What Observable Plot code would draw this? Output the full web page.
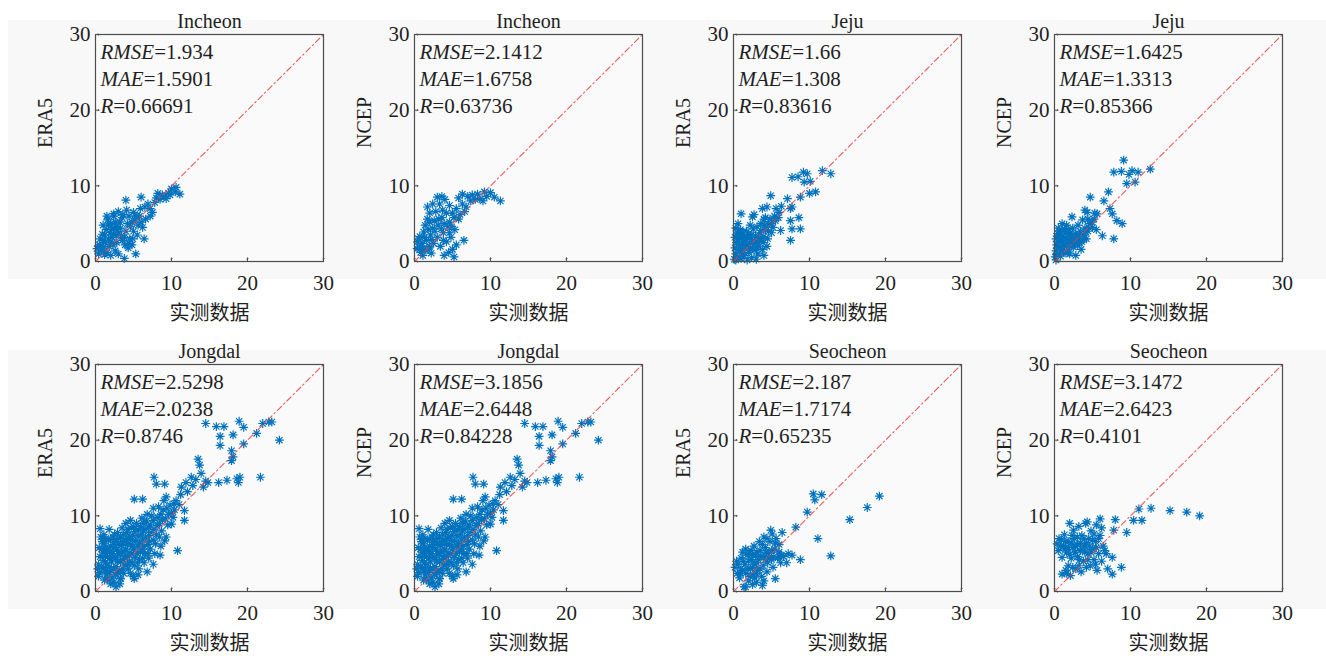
<!DOCTYPE html>
<html>
<head>
<meta charset="utf-8">
<script src="https://cdn.jsdelivr.net/npm/d3@7"></script>
<script src="https://cdn.jsdelivr.net/npm/@observablehq/plot@0.6"></script>
<style>
  html, body { margin: 0; padding: 0; background: #ffffff; }
  #wrap { position: relative; width: 1326px; height: 656px; overflow: hidden; }
  .band { position: absolute; left: 8px; width: 1318px; background: #f8f8f8; }
  .panel { position: absolute; }
  .panel svg { overflow: visible; font-family: 'Liberation Serif', 'Times New Roman', serif !important; }
  .panel svg text { font-weight: normal; }
</style>
</head>
<body>
<div id="wrap">
  <div class="band" style="top:20px;height:259px"></div>
  <div class="band" style="top:350px;height:259px"></div>
</div>
<script>
// ---------------- data ----------------
const titles = ["Incheon", "Incheon", "Jeju", "Jeju", "Jongdal", "Jongdal", "Seocheon", "Seocheon"];
const yLabels = ["ERA5", "NCEP", "ERA5", "NCEP", "ERA5", "NCEP", "ERA5", "NCEP"];
const xLabel = "实测数据";
const rmse = ["1.934", "2.1412", "1.66", "1.6425", "2.5298", "3.1856", "2.187", "3.1472"];
const mae = ["1.5901", "1.6758", "1.308", "1.3313", "2.0238", "2.6448", "1.7174", "2.6423"];
const rValues = ["0.66691", "0.63736", "0.83616", "0.85366", "0.8746", "0.84228", "0.65235", "0.4101"];
const axisTicks = [0, 10, 20, 30];
const diagonal = [0, 30];

// observed (x), model (y) pairs, flattened
const incheonERA5 = [
  0.2,1.7, 0.5,2.2, 0.8,1.5, 1.0,2.8, 1.2,3.5, 0.6,3.0, 1.5,1.2, 1.8,2.0, 1.4,4.2, 2.0,5.0,
  2.2,3.2, 2.5,4.5, 2.8,2.5, 1.0,4.8, 1.6,5.5, 2.4,6.0, 2.6,1.4, 3.0,3.8, 3.2,5.2, 3.5,2.8,
  3.3,4.4, 3.8,3.2, 3.6,6.2, 4.0,8.1, 4.2,5.0, 4.5,3.0, 4.3,1.8, 3.8,0.4, 4.8,2.2, 5.0,4.0,
  5.2,5.5, 5.3,1.0, 5.5,3.5, 5.0,6.5, 5.8,6.0, 6.0,8.5, 6.2,4.5, 6.4,3.0, 6.5,7.2, 6.0,5.2,
  6.9,7.6, 7.2,6.0, 7.5,6.5, 7.8,7.8, 8.2,9.0, 8.5,8.2, 9.0,8.6, 9.3,8.3, 9.6,9.0, 10.0,9.6,
  10.5,9.2, 11.1,8.9, 2.0,0.8, 3.0,1.0, 1.2,0.9, 0.4,1.0, 2.7,3.4, 1.9,3.8, 4.6,4.6, 5.6,4.8,
  4.1,6.8, 3.0,6.6, 2.3,2.2, 2.4,6.3, 0.6,2.0, 1.3,2.5, 1.7,3.0, 2.1,4.2, 2.4,3.6, 2.9,4.0,
  3.4,3.4, 4.0,4.0, 4.4,2.4, 4.9,3.0, 1.1,1.9, 1.7,4.8, 3.5,5.8, 4.8,5.2, 5.3,6.0, 5.9,7.0,
  2.0,2.6, 2.6,5.2, 3.9,2.2, 0.9,3.6, 1.5,6.0, 2.8,4.6, 4.4,6.0, 6.6,5.6, 7.2,7.0, 8.0,8.4,
  8.8,8.8, 9.8,8.8, 10.6,9.8
];
const incheonNCEP = [
  0.35,1.7, 0.6,1.9, 0.4,2.6, 0.8,1.2, 1.0,2.4, 0.7,3.3, 1.2,3.9, 1.5,1.5, 1.6,2.8, 1.4,4.8,
  1.7,5.6, 1.7,7.2, 2.0,6.4, 2.1,3.5, 2.2,1.1, 2.4,4.4, 2.6,5.4, 2.5,2.4, 2.8,6.6, 3.0,8.5,
  3.3,7.6, 3.0,3.2, 3.1,4.8, 3.4,2.0, 3.6,5.8, 3.8,3.8, 3.9,0.8, 3.7,6.8, 4.0,8.2, 4.2,2.6,
  4.4,4.6, 4.6,5.2, 4.8,3.2, 5.0,6.4, 5.2,0.6, 5.0,1.6, 5.3,4.2, 5.5,7.0, 5.8,5.6, 6.0,6.2,
  6.3,7.6, 6.3,8.9, 6.5,2.8, 6.8,7.2, 7.4,8.0, 7.6,8.8, 8.3,8.9, 8.6,8.3, 9.0,8.0, 9.5,8.6,
  10.0,9.1, 10.5,8.5, 11.3,8.0, 2.0,2.0, 1.1,0.8, 4.5,1.2, 0.5,3.0, 1.0,1.6, 1.3,3.2, 1.8,4.2,
  2.3,2.9, 2.7,4.0, 3.2,5.6, 3.5,4.3, 3.9,5.0, 4.2,6.4, 4.6,3.8, 5.2,5.8, 2.0,5.2, 2.4,7.6,
  3.6,8.6, 4.6,7.4, 5.8,8.4, 6.6,6.6, 7.0,8.6, 8.0,8.2, 9.2,9.2, 0.9,2.0, 1.9,1.8, 3.8,2.8,
  4.9,4.6, 5.5,2.2
];
const jejuERA5 = [
  0.1,0.3, 0.3,1.0, 0.2,1.8, 0.4,2.5, 0.2,3.2, 0.5,3.8, 0.3,4.4, 0.8,0.5, 0.9,1.4, 1.0,2.2,
  0.8,3.0, 1.1,3.6, 0.9,4.2, 1.4,0.8, 1.5,1.7, 1.6,2.6, 1.4,3.3, 1.7,4.0, 2.0,1.2, 2.1,2.0,
  2.3,2.9, 2.0,3.6, 2.4,0.5, 2.7,1.5, 2.8,2.4, 2.9,3.4, 2.6,4.3, 3.2,1.0, 3.3,2.0, 3.4,2.8,
  3.5,3.8, 3.1,4.6, 3.8,1.6, 3.9,2.5, 4.0,3.3, 4.2,4.2, 3.6,5.0, 4.4,2.0, 4.5,3.0, 4.6,4.8,
  4.8,5.6, 4.2,5.8, 5.0,3.8, 5.2,4.5, 5.4,6.0, 3.8,7.0, 4.4,7.2, 4.9,8.7, 5.6,7.0, 6.2,4.1,
  6.0,6.5, 7.1,8.3, 7.7,7.2, 7.5,7.0, 7.5,5.4, 7.7,4.3, 8.8,4.3, 7.5,2.8, 8.6,5.8, 8.8,8.5,
  9.3,10.5, 9.7,11.6, 7.7,11.1, 8.5,11.2, 9.2,11.8, 10.1,10.6, 10.8,9.2, 10.0,9.0, 11.7,12.0, 12.8,11.6,
  1.0,6.3, 2.5,5.9, 0.6,5.0, 1.8,0.2, 2.2,4.8, 3.0,0.3, 4.0,0.8, 2.7,6.2, 0.5,0.6, 0.6,1.6,
  0.6,2.6, 0.5,3.4, 0.7,4.0, 1.2,1.1, 1.2,2.0, 1.3,2.9, 1.2,3.9, 1.8,2.3, 1.9,3.2, 2.2,1.6,
  2.5,2.6, 2.4,3.5, 3.0,1.8, 3.1,2.7, 3.3,3.3, 3.7,3.0, 3.6,4.1, 4.1,4.8, 4.6,4.0, 5.0,5.0,
  5.5,5.4, 5.9,5.8, 6.3,7.3, 4.0,5.6, 0.3,0.2, 1.0,0.4
];
const jejuNCEP = [
  0.1,0.6, 0.2,1.4, 0.3,2.2, 0.2,3.0, 0.4,3.7, 0.6,1.0, 0.8,1.9, 0.9,2.7, 0.7,3.4, 1.0,4.1,
  1.2,1.3, 1.3,2.2, 1.5,3.0, 1.4,3.8, 1.0,5.0, 1.8,1.6, 2.0,2.5, 2.2,3.3, 1.9,4.2, 2.5,1.9,
  2.6,2.8, 2.8,3.7, 2.4,4.4, 2.8,0.8, 3.0,2.2, 3.2,3.0, 3.4,4.0, 3.1,4.8, 3.6,2.6, 3.8,3.5,
  4.0,4.4, 3.7,5.5, 4.2,3.0, 4.4,4.0, 4.6,5.0, 4.3,6.5, 4.7,8.5, 4.0,6.8, 5.0,4.5, 5.2,5.6,
  5.6,6.3, 6.3,3.4, 6.5,8.0, 7.1,9.2, 7.6,6.3, 7.3,7.0, 8.2,5.4, 8.9,5.0, 7.8,3.0, 7.8,11.8,
  9.1,13.4, 10.2,12.0, 12.6,12.2, 10.6,10.5, 9.5,10.3, 9.8,11.5, 8.8,11.9, 11.0,11.8, 2.3,5.9, 1.6,4.8,
  2.0,1.0, 0.5,4.4, 3.5,1.6, 5.5,4.2, 0.3,0.9, 0.4,1.8, 0.5,2.6, 0.5,3.3, 0.6,4.0, 1.0,1.5,
  1.1,2.5, 1.1,3.3, 1.3,4.3, 1.6,2.0, 1.7,2.8, 1.8,3.6, 2.2,2.0, 2.3,2.8, 2.1,3.8, 2.7,2.4,
  2.9,3.2, 3.3,2.5, 3.3,3.6, 3.9,3.0, 4.1,3.9, 4.5,4.5, 4.9,5.2, 4.4,5.6, 5.3,6.4, 0.2,0.2,
  0.8,0.7, 1.5,1.1
];
const jongdalERA5 = [
  0.5,2.5, 0.4,3.6, 0.6,4.6, 0.5,5.8, 0.7,7.2, 0.6,8.3, 1.0,3.0, 1.1,4.1, 1.0,5.2, 1.2,6.3,
  1.1,7.5, 1.4,2.2, 1.5,3.5, 1.6,4.6, 1.5,5.6, 1.7,6.8, 1.8,8.2, 2.0,2.8, 2.1,3.9, 2.2,5.0,
  2.0,6.0, 2.3,7.2, 2.4,1.2, 2.6,2.2, 2.7,3.3, 2.6,4.4, 2.8,5.5, 2.7,6.6, 2.9,7.8, 2.7,0.6,
  3.1,2.8, 3.3,3.9, 3.2,5.0, 3.4,6.1, 3.3,7.2, 3.5,8.4, 3.3,1.7, 3.7,2.4, 3.9,3.5, 3.8,4.6,
  4.0,5.6, 3.9,6.7, 4.1,7.8, 4.0,9.0, 4.3,3.0, 4.5,4.0, 4.4,5.1, 4.6,6.2, 4.5,7.3, 4.7,8.4,
  4.6,9.4, 5.0,2.0, 5.1,3.4, 5.2,4.5, 5.0,5.6, 5.3,6.7, 5.2,7.9, 5.4,9.0, 5.1,1.7, 5.1,12.2,
  5.7,3.0, 5.8,4.2, 5.9,5.3, 5.8,6.4, 6.0,7.5, 5.9,8.6, 6.1,9.7, 6.2,12.2, 6.4,3.8, 6.5,5.0,
  6.4,6.0, 6.6,7.1, 6.5,8.2, 6.7,9.3, 6.8,10.2, 7.0,4.4, 7.2,5.6, 7.1,6.6, 7.3,7.8, 7.2,8.8,
  7.4,10.0, 7.6,11.0, 7.7,15.1, 8.0,14.2, 9.1,14.2, 7.8,5.0, 7.9,6.3, 8.0,7.5, 8.1,8.7, 8.2,9.8,
  8.3,11.2, 8.5,4.8, 8.6,6.0, 8.7,8.0, 8.8,9.5, 8.9,10.8, 9.0,12.0, 9.3,12.5, 9.1,6.7, 9.3,7.2,
  9.5,8.8, 9.6,10.2, 9.8,11.4, 10.0,8.9, 10.2,9.8, 10.4,10.8, 10.6,12.0, 10.8,5.4, 11.0,11.5, 11.2,12.8,
  11.3,13.8, 11.7,10.7, 11.7,9.4, 11.9,14.4, 12.1,13.2, 12.6,15.1, 12.8,14.0, 13.2,14.8, 13.5,17.5, 13.7,16.7,
  13.9,15.6, 14.2,13.8, 14.5,14.6, 14.8,14.4, 14.5,22.2, 15.9,21.8, 16.9,21.8, 16.4,20.5, 16.4,19.3, 16.2,14.4,
  17.3,14.7, 17.9,18.6, 18.1,17.8, 17.9,17.3, 18.1,20.7, 18.6,14.9, 18.8,14.4, 19.0,15.1, 18.9,22.5, 19.5,21.7,
  19.5,19.5, 21.2,20.9, 21.7,15.1, 22.0,22.2, 22.8,22.4, 23.2,22.4, 24.2,20.0, 3.3,1.7, 1.2,1.5, 0.3,3.0,
  6.8,2.6, 7.6,3.6, 1.9,4.4, 2.4,6.5, 3.6,5.3, 4.8,6.8, 1.3,5.0, 0.9,6.6, 0.4,2.0, 0.8,3.3,
  0.9,4.5, 0.8,5.6, 0.9,6.9, 1.3,2.7, 1.3,3.8, 1.3,5.7, 1.4,7.0, 1.8,2.5, 1.8,3.2, 1.9,5.3,
  2.0,6.9, 2.2,4.5, 2.4,3.0, 2.4,5.8, 2.5,7.5, 2.9,2.5, 2.9,4.0, 3.0,5.0, 3.0,6.2, 3.1,7.0,
  3.6,3.0, 3.6,4.2, 3.6,6.6, 3.7,7.5, 4.2,3.6, 4.2,4.6, 4.2,6.2, 4.3,7.0, 4.3,8.2, 4.8,3.8,
  4.8,5.0, 4.9,6.0, 4.9,7.4, 5.0,8.6, 5.5,3.8, 5.5,5.0, 5.6,6.0, 5.6,7.3, 5.6,8.2, 6.2,4.4,
  6.2,5.6, 6.2,6.8, 6.3,8.0, 6.3,9.0, 6.9,5.0, 6.9,6.2, 7.0,7.4, 7.0,8.5, 7.6,6.8, 7.7,8.2,
  7.6,9.4, 8.4,7.2, 8.4,9.0, 8.6,10.2, 9.2,9.6, 9.4,11.0, 10.0,10.4, 10.3,11.6, 1.6,1.6, 2.2,1.8,
  3.2,1.0, 4.6,2.4, 5.6,2.2, 2.0,1.0
];
const jongdalNCEP = jongdalERA5;
const seocheonERA5 = [
  0.2,3.2, 0.5,2.4, 0.4,4.0, 0.8,1.8, 1.0,3.0, 1.2,5.2, 1.0,4.4, 1.4,0.6, 1.6,2.4, 1.5,3.6,
  1.8,4.8, 1.6,5.6, 2.0,1.4, 2.2,3.0, 2.4,4.2, 2.3,5.4, 2.6,2.2, 2.8,3.6, 2.9,4.8, 2.7,6.0,
  3.0,1.2, 3.2,2.8, 3.3,4.2, 3.5,5.4, 3.4,6.6, 3.8,0.8, 3.7,2.0, 3.9,3.4, 4.0,4.6, 4.0,7.2,
  4.2,5.8, 4.4,2.6, 4.5,3.8, 4.6,5.0, 4.9,8.1, 4.8,6.6, 5.0,4.2, 5.2,3.2, 5.5,1.7, 5.4,5.6,
  5.6,7.0, 5.8,4.4, 6.0,5.2, 6.2,3.8, 6.4,7.8, 6.0,6.2, 6.6,4.6, 7.0,3.8, 7.2,5.0, 7.7,4.8,
  8.2,8.5, 8.8,4.2, 9.7,10.5, 10.5,12.9, 10.7,12.1, 11.6,12.8, 11.1,7.0, 12.8,4.7, 15.3,9.5, 17.6,11.1,
  19.2,12.6, 1.6,0.6, 2.5,0.9, 0.6,3.6, 0.9,2.4, 1.3,4.0, 1.2,2.8, 1.9,3.0, 2.0,4.0, 2.1,5.0,
  2.5,3.2, 2.5,4.8, 3.0,3.8, 3.1,5.2, 3.5,3.0, 3.6,4.6, 4.2,4.2, 4.3,5.2, 4.7,4.4, 5.0,5.4,
  5.3,4.6, 5.5,6.4, 6.0,4.6, 6.3,4.8, 3.8,6.2, 4.4,7.0, 5.1,7.6, 2.2,2.0, 3.0,2.4, 4.0,1.4,
  2.8,1.8
];
const seocheonNCEP = [
  0.35,6.3, 0.5,5.4, 0.6,7.0, 1.0,4.5, 1.0,2.3, 1.2,6.0, 1.3,7.5, 1.6,5.2, 1.8,3.4, 1.8,6.6,
  2.1,2.1, 2.2,4.4, 2.5,8.1, 2.4,5.8, 2.6,7.0, 2.8,3.0, 3.0,4.6, 3.0,6.2, 3.2,8.6, 3.4,5.4,
  3.5,2.6, 3.6,7.4, 3.8,4.0, 4.0,6.0, 4.1,9.0, 4.3,9.2, 4.2,3.2, 4.4,5.0, 4.5,7.0, 4.7,3.4,
  4.8,8.0, 5.0,5.6, 5.2,4.2, 5.4,6.6, 5.5,8.8, 5.6,2.8, 5.8,5.0, 6.0,9.6, 6.0,7.4, 6.2,4.0,
  6.4,6.0, 6.8,5.0, 7.0,3.0, 7.6,4.5, 7.6,2.3, 8.8,3.2, 7.8,8.1, 8.0,9.5, 9.5,7.8, 10.4,9.4,
  11.5,9.4, 11.1,10.9, 12.7,11.0, 15.2,10.7, 17.4,10.5, 19.1,10.0, 1.5,2.8, 2.0,9.0, 0.8,6.0, 0.9,6.8,
  1.4,5.6, 1.5,6.6, 1.8,5.8, 2.0,4.9, 2.2,6.4, 2.3,7.4, 2.7,5.2, 2.8,6.0, 3.0,7.2, 3.3,4.2,
  3.4,6.4, 3.6,5.6, 3.9,7.0, 4.0,5.2, 4.2,6.4, 4.4,4.2, 4.6,6.0, 4.8,5.2, 5.0,6.8, 5.2,7.6,
  5.5,5.8, 5.8,7.0, 6.2,8.4, 6.6,5.4, 3.2,3.4, 2.4,3.2, 1.6,2.4, 5.4,3.6
];
const series = [incheonERA5, incheonNCEP, jejuERA5, jejuNCEP, jongdalERA5, jongdalNCEP, seocheonERA5, seocheonNCEP];

// ---------------- drawing ----------------
const toPairs = a => d3.range(0, a.length, 2).map(i => [a[i], a[i + 1]]);

// MATLAB-style 8-armed asterisk
const asterisk8 = {
  draw(ctx, size) {
    const r = Math.sqrt(size / Math.PI);
    const d = r * Math.SQRT1_2;
    ctx.moveTo(-r, 0); ctx.lineTo(r, 0);
    ctx.moveTo(0, -r); ctx.lineTo(0, r);
    ctx.moveTo(-d, -d); ctx.lineTo(d, d);
    ctx.moveTo(-d, d); ctx.lineTo(d, -d);
  }
};

const boxLefts = [95, 414, 733, 1054];
const boxTops = [34, 364];
const mL = 70, mR = 25, mT = 34, mB = 70, boxW = 228, boxH = 227;
const serif = "Liberation Serif";
const cjk = "Noto Sans CJK SC";
const ink = "#1f1f1f";
const wrap = document.getElementById("wrap");

titles.forEach((title, i) => {
  const row = Math.floor(i / 4), col = i % 4;
  const pts = toPairs(series[i]);
  const statLines = [["RMSE", rmse[i]], ["MAE", mae[i]], ["R", rValues[i]]];
  const chart = Plot.plot({
    width: mL + boxW + mR,
    height: mT + boxH + mB,
    marginLeft: mL, marginRight: mR, marginTop: mT, marginBottom: mB,
    x: {domain: [0, 30]},
    y: {domain: [0, 30]},
    style: {fontFamily: serif, fontSize: "21px", color: ink, background: "transparent", overflow: "visible"},
    marks: [
      Plot.frame({fill: "#fafafa"}),
      Plot.dot(pts, {x: d => d[0], y: d => d[1], symbol: asterisk8, r: 4.4, stroke: "#0072BD", fill: "none", strokeWidth: 1.2}),
      Plot.line(diagonal, {x: d => d, y: d => d, stroke: "#e8413f", strokeOpacity: 0.85, strokeWidth: 1.1, strokeDasharray: "6,3,1.5,3"}),
      Plot.vector(axisTicks, {x: d => d, y: 0, length: 3.5, anchor: "start", rotate: 0, stroke: "#4d4d4d", strokeWidth: 1}),
      Plot.vector(axisTicks, {x: 0, y: d => d, length: 3.5, anchor: "start", rotate: 90, stroke: "#4d4d4d", strokeWidth: 1}),
      Plot.frame({stroke: "#4d4d4d", strokeWidth: 1.2}),
      Plot.axisX(axisTicks, {tickSize: 0, tickPadding: 14, label: null, fontSize: 21, fontFamily: serif, fill: ink}),
      Plot.axisY(axisTicks, {tickSize: 0, tickPadding: 5, label: null, fontSize: 21, fontFamily: serif, fill: ink}),
      ...statLines.map((s, k) => Plot.text([s], {
        frameAnchor: "top-left", dx: 5, dy: 10 + k * 27, lineAnchor: "top",
        text: d => d[0] + "=" + d[1], fontSize: 21, fontFamily: serif, fontWeight: "normal", fill: ink
      })),
      Plot.text([title], {frameAnchor: "top", dy: -7, lineAnchor: "bottom", text: d => d, fontSize: 20, fontFamily: serif, fontWeight: "normal", fill: ink}),
      Plot.text([yLabels[i]], {frameAnchor: "left", dx: -50, rotate: -90, text: d => d, fontSize: 20, fontFamily: serif, fontWeight: "normal", fill: ink}),
      Plot.text([xLabel], {frameAnchor: "bottom", dy: 58, text: d => d, fontSize: 20, fill: ink, fontFamily: cjk, fontWeight: "normal"})
    ]
  });
  // italicise the statistic names
  d3.select(chart).selectAll("text").each(function () {
    const m = this.textContent.match(/^(RMSE|MAE|R)=(.*)$/);
    if (m) {
      const t = d3.select(this);
      t.text("");
      t.append("tspan").attr("font-style", "italic").text(m[1]);
      t.append("tspan").text("=" + m[2]);
    }
  });
  const div = document.createElement("div");
  div.className = "panel";
  div.style.left = (boxLefts[col] - mL) + "px";
  div.style.top = (boxTops[row] - mT) + "px";
  div.appendChild(chart);
  wrap.appendChild(div);
});
</script>
</body>
</html>
